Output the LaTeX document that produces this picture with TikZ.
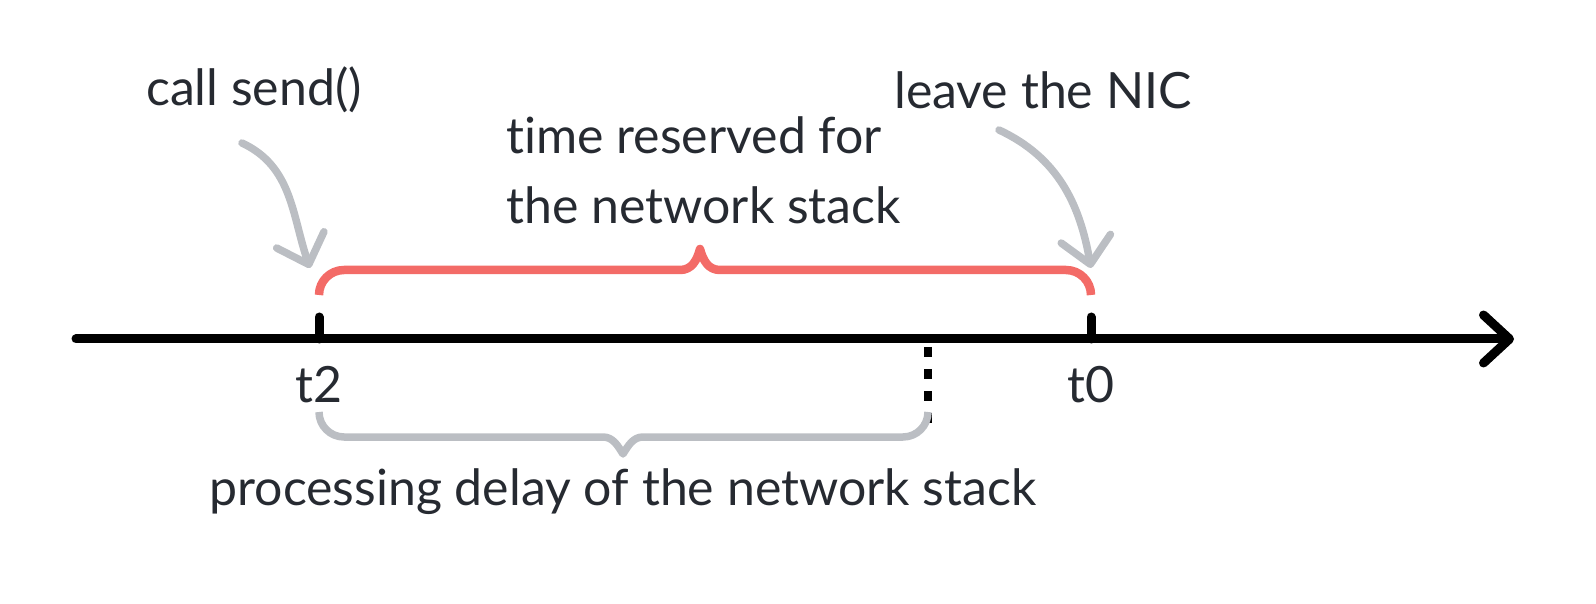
\documentclass[tikz,border=0pt]{standalone}
\usepackage{fontspec}
\setmainfont{Lato}[Ligatures=NoCommon]
\usetikzlibrary{arrows.meta}

\definecolor{ink}{HTML}{262A31}
\definecolor{bracered}{HTML}{F36B67}
\definecolor{hintgray}{HTML}{BBBEC3}

\begin{document}
\begin{tikzpicture}[
  x=0.5pt,y=0.5pt,
  lbl/.style={text=ink,font=\fontsize{25}{35}\selectfont,inner sep=0pt},
  axisline/.style={line width=4.5pt,line cap=round,line join=round,
    -{Straight Barb[length=13pt,width=24pt,line cap=round,line join=round]}},
  tickmark/.style={line width=4.5pt,line cap=round},
  marker/.style={line width=4pt,dash pattern=on 5pt off 6pt},
  redbrace/.style={draw=bracered,line width=4.25pt,line join=round},
  graybrace/.style={draw=hintgray,line width=3.75pt,line join=round},
  hint/.style={draw=hintgray,line width=3.75pt,line cap=round,
    -{Straight Barb[length=13pt,width=25pt,line cap=round,line join=round]}}
  ]
  \useasboundingbox (0,0) rectangle (1596,-604);

  % the time axis
  \coordinate (origin) at (76,-339);
  \coordinate (far) at (1514,-339);
  \draw[axisline] (origin) -- (far);

  % t2 and t0
  \coordinate (t2) at (319,-339);
  \coordinate (t0) at (1091,-339);
  \draw[tickmark] (t2) -- ++(0,22);
  \draw[tickmark] (t0) -- ++(0,22);
  \node[lbl] (t2lbl) at (319,-385) {t2};
  \node[lbl] (t0lbl) at (1091,-385) {t0};

  % end of processing
  \coordinate (done) at (928,-347);
  \draw[marker] (done) -- ++(0,-81);

  % reserved time
  \draw[redbrace] (319,-295) arc[start angle=180,end angle=90,radius=12.5pt]
    -- (680,-270) .. controls (692,-270) and (697,-260) .. (700,-249)
    .. controls (703,-260) and (708,-270) .. (720,-270)
    -- (1066,-270) arc[start angle=90,end angle=0,radius=12.5pt];
  \node[lbl,anchor=west,align=left] (reserved) at (506,-170) {time reserved for\\the network stack};

  % processing delay
  \draw[graybrace] (319,-412) arc[start angle=180,end angle=270,radius=12.5pt]
    -- (603,-437) .. controls (613,-437) and (618,-446) .. (623,-454)
    .. controls (628,-446) and (633,-437) .. (643,-437)
    -- (903,-437) arc[start angle=270,end angle=360,radius=12.5pt];
  \node[lbl] (delay) at (623,-492) {processing delay of the network stack};

  % the two events
  \node[lbl] (send) at (254,-90) {call send()};
  \node[lbl] (nic) at (1043,-90) {leave the NIC};
  \coordinate (sendfrom) at (242,-143);
  \coordinate (sendto) at (310,-268);
  \coordinate (nicfrom) at (999,-130);
  \coordinate (nicto) at (1091,-268);
  \draw[hint] (sendfrom) to[out=-25,in=109] (sendto);
  \draw[hint] (nicfrom) to[out=-25,in=100] (nicto);
\end{tikzpicture}
\end{document}
